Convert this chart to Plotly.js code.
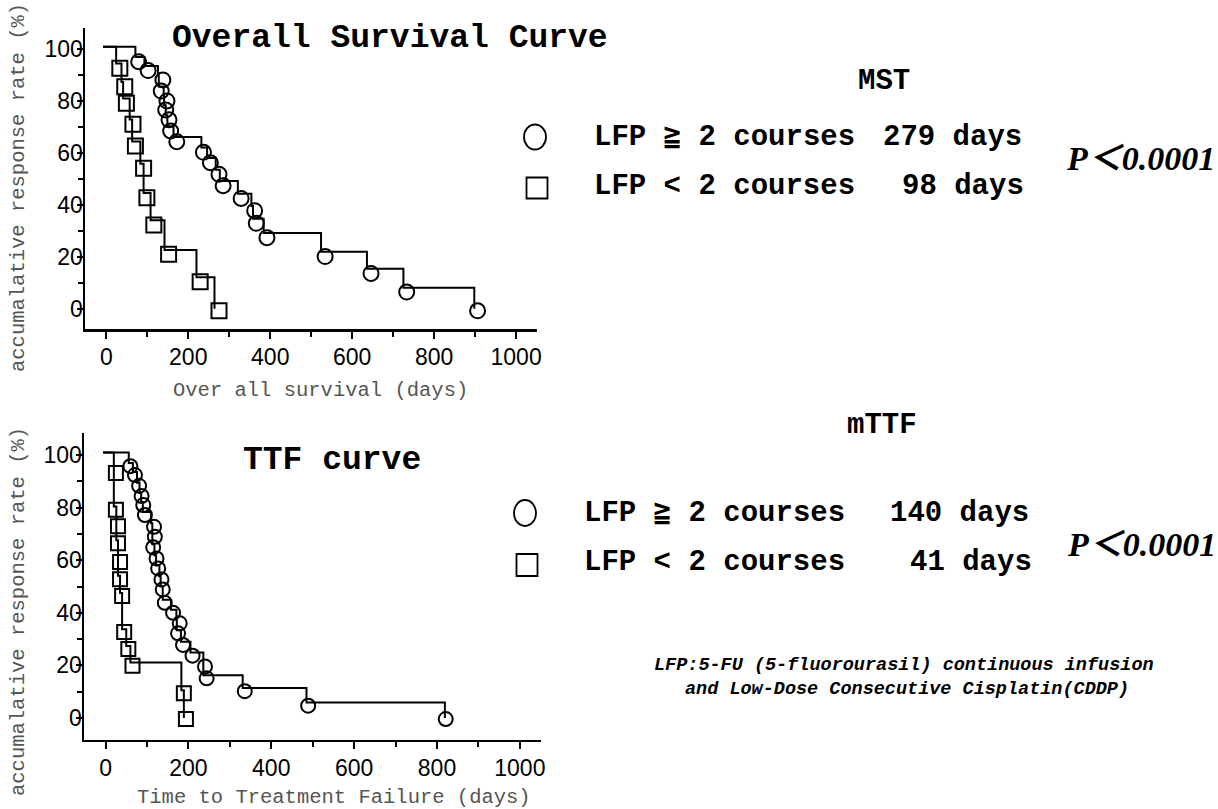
<!DOCTYPE html>
<html>
<head>
<meta charset="utf-8">
<script src="https://cdn.plot.ly/plotly-3.0.1.min.js"></script>
<style>html,body{margin:0;padding:0;background:#fff}#chart{width:1218px;height:809px}</style>
</head>
<body>
<div id="chart"></div>
<script>
// ---------- Overall survival: LFP >= 2 courses (circles) ----------
var osHighStepDays = [-8, 71, 93, 126, 128, 140, 141, 145, 149, 164, 232, 246, 267, 277, 321, 354, 358, 384, 524, 636, 725, 898];
var osHighStepPct  = [101, 97, 93.6, 90, 85.7, 82, 78.4, 74.6, 70.3, 66.2, 62.1, 58.1, 53.6, 49.2, 44.3, 39.6, 34.7, 29.2, 22, 15.4, 8.1, 0];
var osHighMarkDays = [79, 102, 138, 134, 148, 145, 153, 157, 172, 237, 254, 275, 285, 329, 362, 366, 392, 534, 646, 733, 906];
var osHighMarkPct  = [95.2, 91.8, 88.2, 83.9, 80.1, 76.6, 72.8, 68.5, 64.4, 60.3, 56.3, 51.8, 47.4, 42.5, 37.8, 32.9, 27.4, 20.1, 13.6, 6.4, -0.8];
// ---------- Overall survival: LFP < 2 courses (squares) ----------
var osLowStepDays = [-8, 24, 37, 41, 57, 63, 83, 91, 108, 142, 220, 264];
var osLowStepPct  = [101, 94.5, 87.4, 81, 72.9, 64.5, 55.9, 44.6, 34.1, 22.6, 12.1, 0];
var osLowMarkDays = [33, 45, 49, 65, 71, 91, 99, 116, 152, 229, 275];
var osLowMarkPct  = [92.7, 85.6, 79.2, 71.1, 62.7, 54.1, 42.8, 32.3, 21, 10.4, -0.8];
// ---------- TTF: LFP >= 2 courses (circles) ----------
var ttfHighStepDays = [-6, 56, 66, 76, 82, 86, 90, 110, 113, 113, 118, 122, 130, 133, 138, 158, 171, 172, 182, 205, 236, 236, 331, 485, 819];
var ttfHighStepPct  = [101, 97, 93.6, 89.5, 85.6, 82.2, 78.4, 74.1, 70.1, 66.1, 61.9, 58.1, 53.9, 50.1, 45, 41.2, 37.2, 33.4, 29, 24.9, 20.8, 16.3, 11.4, 5.9, 0];
var ttfHighMarkDays = [60, 71, 81, 87, 91, 95, 117, 119, 115, 123, 127, 135, 138, 143, 163, 179, 175, 187, 210, 240, 244, 336, 489, 821];
var ttfHighMarkPct  = [95.8, 92.4, 88.3, 84.4, 81, 77.2, 72.7, 68.9, 64.9, 60.7, 56.9, 52.7, 48.9, 43.8, 40, 36, 32.2, 27.8, 23.7, 19.6, 15.1, 10.2, 4.7, -0.4];
// ---------- TTF: LFP < 2 courses (squares) ----------
var ttfLowStepDays = [-6, 20, 20, 26, 26, 30, 30, 35, 40, 50, 60, 183, 189];
var ttfLowStepPct  = [101, 94.4, 80.4, 74, 67.6, 60.4, 54.1, 47.5, 33.8, 27.4, 21.1, 10.6, 0];
var ttfLowMarkDays = [25, 25, 30, 30, 35, 35, 40, 45, 55, 65, 189, 194];
var ttfLowMarkPct  = [93.2, 79.2, 72.9, 66.5, 59.3, 52.8, 46.4, 32.7, 26.2, 19.9, 9.4, -0.4];

var xTickVals = [0, 200, 400, 600, 800, 1000];
var yTickVals = [0, 20, 40, 60, 80, 100];

var W = 1218, H = 809;
function px(x){ return x / W; }
function py(y){ return 1 - y / H; }

function stepTrace(x, y, xa, ya){
  return {x:x, y:y, xaxis:xa, yaxis:ya, mode:'lines', line:{shape:'hv', color:'#000', width:2}, hoverinfo:'skip'};
}
function markTrace(x, y, xa, ya, sym, size){
  return {x:x, y:y, xaxis:xa, yaxis:ya, mode:'markers',
    marker:{symbol:sym, size:size, color:'#000', line:{color:'#000', width:2}}, hoverinfo:'skip'};
}

var data = [
  stepTrace(osHighStepDays, osHighStepPct, 'x', 'y'),
  stepTrace(osLowStepDays, osLowStepPct, 'x', 'y'),
  markTrace(osHighMarkDays, osHighMarkPct, 'x', 'y', 'circle-open', 15),
  markTrace(osLowMarkDays, osLowMarkPct, 'x', 'y', 'square-open', 15),
  stepTrace(ttfHighStepDays, ttfHighStepPct, 'x2', 'y2'),
  stepTrace(ttfLowStepDays, ttfLowStepPct, 'x2', 'y2'),
  markTrace(ttfHighMarkDays, ttfHighMarkPct, 'x2', 'y2', 'circle-open', 14),
  markTrace(ttfLowMarkDays, ttfLowMarkPct, 'x2', 'y2', 'square-open', 14)
];

var tickFont = {family:'Liberation Sans, Arial, sans-serif', size:23, color:'#000'};
function xAxis(domain, anchor){
  return {domain:domain, anchor:anchor, range:[-52, 1051], showgrid:false, zeroline:false,
    showline:true, linecolor:'#000', linewidth:2.5, ticks:'outside', ticklen:7, tickwidth:2, tickcolor:'#000',
    tickvals:xTickVals, ticktext:xTickVals.map(String), tickfont:tickFont, ticklabelstandoff:-1,
    minor:{tickvals:[100,300,500,700,900], ticks:'outside', ticklen:5, tickwidth:2, tickcolor:'#000'},
    fixedrange:true};
}
function yAxis(domain, anchor, range){
  return {domain:domain, anchor:anchor, range:range, showgrid:false, zeroline:false,
    showline:true, linecolor:'#000', linewidth:2.5, ticks:'outside', ticklen:6, tickwidth:2, tickcolor:'#000',
    tickvals:yTickVals, ticktext:yTickVals.map(String), tickfont:tickFont, ticklabelstandoff:-11,
    minor:{tickvals:[10,30,50,70,90], ticks:'outside', ticklen:5, tickwidth:2, tickcolor:'#000'},
    fixedrange:true};
}

var mono = '"Liberation Mono", "DejaVu Sans Mono", "Noto Sans CJK JP", monospace';
var serif = '"Liberation Serif", "Noto Sans CJK JP", serif';
function ann(text, x, y, o){
  o = o || {};
  return {text:text, xref:'paper', yref:'paper', x:px(x), y:py(y), showarrow:false,
    xanchor:o.xa || 'center', yanchor:o.ya || 'middle', textangle:o.angle || 0,
    font:{family:o.family || mono, size:o.size || 29, color:o.color || '#000',
      weight:o.weight || 'normal', style:o.style || 'normal'}};
}

var annotations = [
  ann('Overall Survival Curve', 390, 39, {size:33, weight:'bold'}),
  ann('TTF curve', 332, 460, {size:33, weight:'bold'}),
  ann('accumalative response rate (%)', 18, 188, {size:20.5, angle:-90, color:'#555'}),
  ann('accumalative response rate (%)', 18, 612, {size:20.5, angle:-90, color:'#555'}),
  ann('Over all survival (days)', 320, 390, {size:20.5, color:'#555'}),
  ann('Time to Treatment Failure (days)', 334, 797, {size:20.5, color:'#555'}),
  ann('MST', 884, 81, {size:29, weight:'bold'}),
  ann('LFP ≧ 2 courses', 592, 138, {size:29, weight:'bold', xa:'left'}),
  ann('279 days', 1024, 138, {size:29, weight:'bold', xa:'right'}),
  ann('LFP &lt; 2 courses', 592, 186, {size:29, weight:'bold', xa:'left'}),
  ann('98 days', 1026, 186, {size:29, weight:'bold', xa:'right'}),
  ann('P＜0.0001', 1140, 159, {size:34, weight:'bold', style:'italic', family:serif}),
  ann('mTTF', 882, 425, {size:29, weight:'bold'}),
  ann('LFP ≧ 2 courses', 582, 513, {size:29, weight:'bold', xa:'left'}),
  ann('140 days', 1031, 513, {size:29, weight:'bold', xa:'right'}),
  ann('LFP &lt; 2 courses', 582, 562, {size:29, weight:'bold', xa:'left'}),
  ann('41 days', 1034, 562, {size:29, weight:'bold', xa:'right'}),
  ann('P＜0.0001', 1141, 544, {size:34, weight:'bold', style:'italic', family:serif}),
  ann('LFP:5-FU (5-fluorourasil) continuous infusion', 652, 665, {size:18.5, weight:'bold', style:'italic', xa:'left'}),
  ann('and Low-Dose Consecutive Cisplatin(CDDP)', 683, 689, {size:18.5, weight:'bold', style:'italic', xa:'left'})
];

function ell(cx, cy, w, h){
  return {type:'circle', xref:'paper', yref:'paper', x0:px(cx-w/2), x1:px(cx+w/2), y0:py(cy+h/2), y1:py(cy-h/2),
    line:{color:'#000', width:1.8}, fillcolor:'rgba(0,0,0,0)'};
}
function box(cx, cy, w, h){
  return {type:'rect', xref:'paper', yref:'paper', x0:px(cx-w/2), x1:px(cx+w/2), y0:py(cy+h/2), y1:py(cy-h/2),
    line:{color:'#000', width:1.8}, fillcolor:'rgba(0,0,0,0)'};
}
var shapes = [
  ell(535, 137, 22, 25),
  box(537, 188, 21, 21),
  ell(525, 513, 22, 26),
  box(527, 565, 21, 22)
];

var layout = {
  width:W, height:H, margin:{l:0, r:0, t:0, b:0}, paper_bgcolor:'#fff', plot_bgcolor:'#fff',
  showlegend:false, hovermode:false,
  xaxis:xAxis([px(85), px(537)], 'y'),
  yaxis:yAxis([py(329.3), py(28.3)], 'x', [-7.94, 108.1]),
  xaxis2:xAxis([px(84), px(541)], 'y2'),
  yaxis2:yAxis([py(739.7), py(433)], 'x2', [-8.25, 108.4]),
  annotations:annotations, shapes:shapes
};

Plotly.newPlot('chart', data, layout, {staticPlot:true, displayModeBar:false});
</script>
</body>
</html>
